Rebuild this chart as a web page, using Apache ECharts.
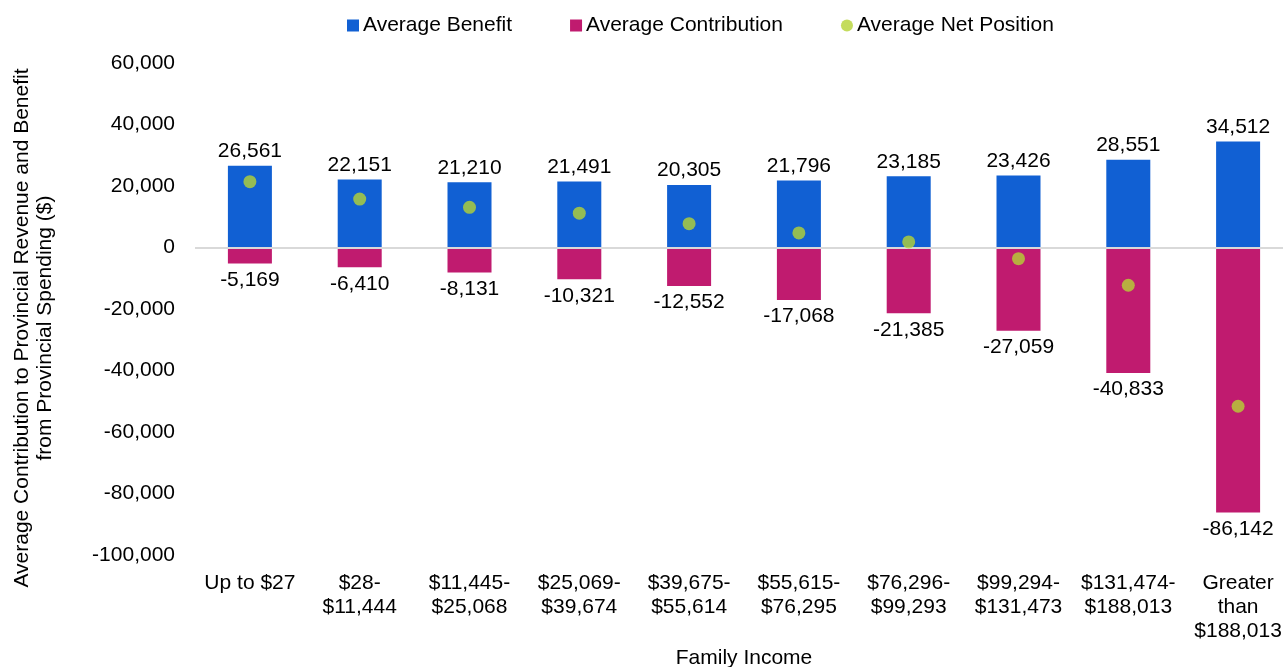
<!DOCTYPE html>
<html>
<head>
<meta charset="utf-8">
<script src="https://cdn.jsdelivr.net/npm/echarts@6/dist/echarts.min.js"></script>
<style>
  html, body { margin: 0; padding: 0; background: #fff; }
  #main { width: 1283px; height: 667px; }
</style>
</head>
<body>
<div id="main"></div>
<script>
    var incomeGroups = ['Up to $27', '$28-\n$11,444', '$11,445-\n$25,068', '$25,069-\n$39,674', '$39,675-\n$55,614',
        '$55,615-\n$76,295', '$76,296-\n$99,293', '$99,294-\n$131,473', '$131,474-\n$188,013', 'Greater\nthan\n$188,013'];
    var avgBenefit = [26561, 22151, 21210, 21491, 20305, 21796, 23185, 23426, 28551, 34512];
    var avgContribution = [-5169, -6410, -8131, -10321, -12552, -17068, -21385, -27059, -40833, -86142];
    var avgNetPosition = [21392, 15741, 13079, 11170, 7753, 4728, 1800, -3633, -12282, -51630];

    var font = 'Liberation Sans, Arial, sans-serif';
    function fmt(v) { return Number(v).toLocaleString('en-US'); }

    var myChart = echarts.init(document.getElementById('main'));

    var option = {
        animation: false,
        textStyle: { fontFamily: font },
        legend: {
            top: 10,
            left: 342,
            itemGap: 58,
            itemWidth: 12,
            itemHeight: 12,
            textStyle: { fontSize: 21, color: '#000', fontFamily: font, padding: [0, 0, 0, -1] },
            data: [
                { name: 'Average Benefit', icon: 'rect' },
                { name: 'Average Contribution', icon: 'rect' },
                { name: 'Average Net Position', icon: 'circle' }
            ]
        },
        grid: { left: 195, top: 63, bottom: 112, width: 1098, outerBoundsMode: 'none' },
        graphic: [{
            type: 'text',
            x: 34,
            y: 328,
            rotation: Math.PI / 2,
            style: {
                text: 'Average Contribution to Provincial Revenue and Benefit\nfrom Provincial Spending ($)',
                font: '21px ' + font,
                fill: '#000',
                align: 'center',
                verticalAlign: 'middle',
                lineHeight: 23
            }
        }],
        xAxis: {
            type: 'category',
            data: incomeGroups,
            name: 'Family Income',
            nameLocation: 'middle',
            nameGap: 89,
            nameTextStyle: { fontSize: 21, color: '#000', fontFamily: font },
            axisLine: { show: false },
            axisTick: { show: false },
            axisLabel: { fontSize: 21, color: '#000', lineHeight: 24, margin: 16, interval: 0, fontFamily: font }
        },
        yAxis: {
            type: 'value',
            min: -100000,
            max: 60000,
            interval: 20000,
            axisLine: { show: false },
            axisTick: { show: false },
            splitLine: { show: false },
            axisLabel: { fontSize: 21, color: '#000', margin: 20, formatter: fmt, fontFamily: font }
        },
        series: [
            {
                name: 'Average Benefit',
                type: 'bar',
                stack: 'total',
                barWidth: 44,
                data: avgBenefit,
                itemStyle: { color: '#1160d3' },
                label: { show: true, position: 'top', fontSize: 21, color: '#000', distance: 4, formatter: function (p) { return fmt(p.value); } },
                markLine: {
                    silent: true,
                    symbol: 'none',
                    label: { show: false },
                    lineStyle: { color: '#d9d9d9', width: 2, type: 'solid' },
                    data: [{ yAxis: 0 }]
                }
            },
            {
                name: 'Average Contribution',
                type: 'bar',
                stack: 'total',
                barWidth: 44,
                data: avgContribution,
                itemStyle: { color: '#c01b6f' },
                label: { show: true, position: 'bottom', fontSize: 21, color: '#000', distance: 6, formatter: function (p) { return fmt(p.value); } }
            },
            {
                name: 'Average Net Position',
                type: 'scatter',
                symbolSize: 13,
                data: avgNetPosition,
                itemStyle: { color: '#b5d334' },
                z: 5
            }
        ]
    };

    myChart.setOption(option);
</script>
</body>
</html>
